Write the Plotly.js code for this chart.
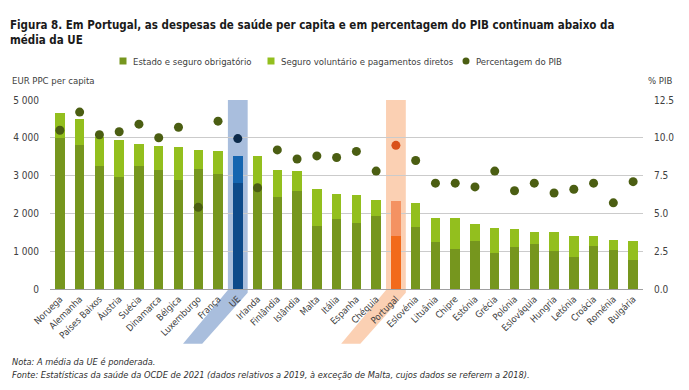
<!DOCTYPE html>
<html><head><meta charset="utf-8">
<script src="https://cdn.plot.ly/plotly-3.0.1.min.js"></script>
<style>html,body{margin:0;padding:0;background:#fff}#chart{width:689px;height:390px}</style>
</head><body><div id="chart"></div>
<script>
const categories = ["Noruega","Alemanha","Países Baixos","Áustria","Suécia","Dinamarca","Bélgica","Luxemburgo","França","UE","Irlanda","Finlândia","Islândia","Malta","Itália","Espanha","Chéquia","Portugal","Eslovénia","Lituânia","Chipre","Estónia","Grécia","Polónia","Eslováquia","Hungria","Letónia","Croácia","Roménia","Bulgária"];
const publicSpend = [4003,3801,3254,2963,3254,3148,2884,3175,3042,2804,2707,2434,2601,1667,1852,1746,1931,1402,1640,1252,1058,1270,961,1120,1199,1005,855,1138,1032,767];
const voluntarySpend = [653,696,766,979,582,626,881,511,600,714,803,714,529,978,661,732,423,917,635,626,820,458,644,458,309,494,556,264,273,503];
const gdpShare = [10.5,11.7,10.2,10.4,10.9,10.0,10.7,5.4,11.1,9.95,6.7,9.2,8.6,8.8,8.7,9.1,7.8,9.5,8.5,7.0,7.0,6.75,7.8,6.5,7.0,6.35,6.6,7.0,5.7,7.1];
const leftTicks = [0,1000,2000,3000,4000,5000];
const leftTickText = ["0","1 000","2 000","3 000","4 000","5 000"];
const rightTicks = [0,2.5,5,7.5,10,12.5];
const rightTickText = ["0.0","2.5","5.0","7.5","10.0","12.5"];
const seriesNames = ["Estado e seguro obrigatório","Seguro voluntário e pagamentos diretos","Percentagem do PIB"];

const FONT = "'DejaVu Sans Condensed','DejaVu Sans',sans-serif";
const COL = {pub:"#76961e", vol:"#93bf1e", dot:"#4b5e12",
             euPub:"#0d4a8a", euVol:"#1565b0", euDot:"#0c2a4a",
             ptPub:"#f26a1a", ptVol:"#f49262", ptDot:"#d9501a",
             euBand:"#a9bedd", ptBand:"#fbd0b3"};
const colorFor = (c, base, eu, pt) => c === "UE" ? eu : (c === "Portugal" ? pt : base);
const euIdx = categories.indexOf("UE"), ptIdx = categories.indexOf("Portugal");

const traces = [
  {type:"bar", name:seriesNames[0], x:categories, y:publicSpend, showlegend:false,
   marker:{color:categories.map(c=>colorFor(c,COL.pub,COL.euPub,COL.ptPub))}, hoverinfo:"skip"},
  {type:"bar", name:seriesNames[1], x:categories, y:voluntarySpend, showlegend:false,
   marker:{color:categories.map(c=>colorFor(c,COL.vol,COL.euVol,COL.ptVol))}, hoverinfo:"skip"},
  {type:"scatter", mode:"markers", name:seriesNames[2], x:categories, y:gdpShare, yaxis:"y2", showlegend:false,
   marker:{size:9, color:categories.map(c=>colorFor(c,COL.dot,COL.euDot,COL.ptDot))}, hoverinfo:"skip"}
];

// plot area in pixels: left 50, right 643, top 100, bottom 289
const PL = 50, PW = 593, PB = 289, PH = 189;
const px = v => (v - PL) / PW;
const py = v => (PB - v) / PH;

function band(i, color){
  return [
    {type:"rect", xref:"x", yref:"y", x0:i-0.5, x1:i+0.5, y0:0, y1:5000, fillcolor:color, line:{width:0}, layer:"below"},
    {type:"path", xref:"x", yref:"paper", layer:"below", fillcolor:color, line:{width:0},
     path:`M ${i-0.5} 0 L ${i+0.5} 0 L ${i+0.5} -0.02 L ${i-1.8} -0.29 L ${i-2.77} -0.29 L ${i-0.5} -0.005 Z`}
  ];
}

// custom legend (symbol centre x in px, text start x in px)
const legendItems = [
  {sym:"square", cx:123, tx:131, color:COL.pub, text:seriesNames[0]},
  {sym:"square", cx:271, tx:279, color:COL.vol, text:seriesNames[1]},
  {sym:"circle", cx:466, tx:474, color:COL.dot, text:seriesNames[2]}
];
const LY = 61, S = 3.5;
const legendShapes = legendItems.map(it => ({
  type: it.sym === "square" ? "rect" : "circle", xref:"paper", yref:"paper",
  x0:px(it.cx-S), x1:px(it.cx+S), y0:py(LY+S), y1:py(LY-S), fillcolor:it.color, line:{width:0}
}));
const legendTexts = legendItems.map(it => ({
  text:it.text, xref:"paper", yref:"paper", x:px(it.tx), y:py(LY), xanchor:"left", yanchor:"middle",
  showarrow:false, font:{size:9.5, color:"#404040"}
}));

const layout = {
  width:689, height:390, margin:{l:PL, r:689-PL-PW, t:PB-PH, b:390-PB},
  paper_bgcolor:"#fff", plot_bgcolor:"rgba(0,0,0,0)",
  font:{family:FONT, size:10, color:"#404040"},
  barmode:"stack", bargap:0.52, showlegend:false,
  title:{text:"Figura 8. Em Portugal, as despesas de saúde per capita e em percentagem do PIB continuam abaixo da<br>média da UE",
    x:10/689, xanchor:"left", xref:"container", y:1-29/390, yanchor:"middle", yref:"container",
    font:{family:FONT, size:11.5, color:"#1a1a1a", weight:"bold"}},
  xaxis:{type:"category", range:[-0.5, categories.length-0.5], autorange:false, tickangle:-45, showgrid:false,
    showline:true, linecolor:"#a0a0a0", linewidth:1, ticks:"", tickfont:{size:9.3, color:"#404040"}, fixedrange:true},
  yaxis:{range:[0,5000], tickvals:leftTicks, ticktext:leftTickText, showgrid:true, gridcolor:"#cbcbcb", gridwidth:1,
    zeroline:false, showline:false, ticks:"", tickfont:{size:10, color:"#404040"}, ticklabelstandoff:10},
  yaxis2:{range:[0,12.5], overlaying:"y", side:"right", tickvals:rightTicks, ticktext:rightTickText, showgrid:false,
    zeroline:false, showline:false, ticks:"", tickfont:{size:10, color:"#404040"}, ticklabelstandoff:10},
  shapes:[...band(euIdx,COL.euBand), ...band(ptIdx,COL.ptBand), ...legendShapes],
  annotations:[
    ...legendTexts,
    {text:"EUR PPC per capita", xref:"paper", yref:"paper", x:px(10), y:py(80), xanchor:"left", yanchor:"middle", showarrow:false, font:{size:9.5,color:"#404040"}},
    {text:"% PIB", xref:"paper", yref:"paper", x:px(646), y:py(80), xanchor:"left", yanchor:"middle", showarrow:false, font:{size:9.5,color:"#404040"}},
    {text:"<i>Nota: A média da UE é ponderada.</i>", xref:"paper", yref:"paper", x:px(10), y:py(361), xanchor:"left", yanchor:"middle", showarrow:false, font:{size:9.2,color:"#303030"}},
    {text:"<i>Fonte: Estatísticas da saúde da OCDE de 2021 (dados relativos a 2019, à exceção de Malta, cujos dados se referem a 2018).</i>", xref:"paper", yref:"paper", x:px(10), y:py(374), xanchor:"left", yanchor:"middle", showarrow:false, font:{size:9.2,color:"#303030"}}
  ]
};
Plotly.newPlot("chart", traces, layout, {displayModeBar:false, staticPlot:true});
</script></body></html>
